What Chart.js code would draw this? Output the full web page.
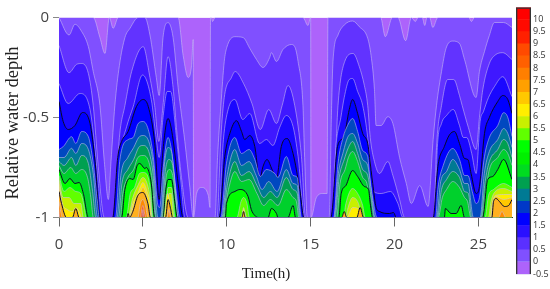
<!DOCTYPE html>
<html>
<head>
<meta charset="utf-8">
<title>Relative water depth contour</title>
<script src="https://cdn.jsdelivr.net/npm/chart.js@4"></script>
<style>
  html, body { margin: 0; padding: 0; background: #fff; }
  #wrap { position: relative; width: 550px; height: 289px; overflow: hidden; }
  canvas { position: absolute; top: 0; filter: blur(0.45px); }
  #plot { left: 0; }
  #bar { left: 500px; }
</style>
</head>
<body>
<div id="wrap">
  <canvas id="plot" width="550" height="289"></canvas>
  <canvas id="bar" width="50" height="289"></canvas>
</div>
<script>
// contour traces: [time (h), relative depth]
const contourCap = [[0,0],[2.04,0],[2.44,-.10],[2.74,-.18],[3,0],[3.23,-.054],[3.53,0],[7.1,0],[7.4,-.19],[7.7,-.30],[7.9,-.24],[8,-.11],[8.02,-1],[8.2,-.88],[8.5,-.85],[8.9,-.89],[9,-.95],[9.03,0],[9.08,0],[9.15,-.02],[9.3,0],[14.54,0],[14.84,-.04],[15,0],[15.02,-1],[15.34,-.9],[15.73,-.88],[15.98,-.88],[16.03,0],[19.17,0],[19.45,-.096],[19.87,0],[20.2,0],[20.66,-.116],[21,0],[21.24,-.02],[21.4,0],[21.65,0],[21.8,-.04],[21.93,0],[22.09,0],[22.28,-.05],[22.58,0],[24.43,0],[24.58,-.02],[24.76,0],[27,0]];
const contourA = [[0,0],[.6,-.0875],[.95,-.034],[1.35,-.07],[1.75,-.146],[2.04,-.27],[2.44,-.44],[2.7,-.72],[2.94,-.91],[3.1,-.72],[3.33,-.44],[3.6,-.24],[3.93,-.10],[4.23,-.054],[4.72,0],[5.12,0],[5.42,-.0875],[5.8,-.3],[5.97,-.39],[6.2,-.10],[6.5,-.026],[6.8,-.10],[7.1,-.35],[7.5,-.62],[7.8,-.85],[8,-1],[9.3,-1],[9.45,-.7],[9.65,-.44],[9.85,-.22],[10,-.15],[10.48,-.096],[10.97,-.10],[11.37,-.154],[11.77,-.21],[12.16,-.25],[12.56,-.20],[12.66,-.176],[12.96,-.22],[13.35,-.16],[13.85,-.135],[14.05,-.146],[14.25,-.22],[14.54,-.44],[14.64,-.70],[14.8,-1],[16.1,-1],[16.25,-.44],[16.33,-.22],[16.63,-.0875],[17,-.0375],[17.5,-.0175],[17.9,-.046],[18.4,-.104],[18.6,-.19],[18.8,-.36],[18.9,-.54],[19.2,-.54],[19.6,-.496],[19.9,-.53],[20.3,-.70],[20.7,-.83],[21,-.93],[21.5,-.84],[22,-.945],[22.3,-.61],[22.5,-.44],[22.8,-.27],[23.07,-.154],[23.47,-.118],[23.87,-.13],[24.17,-.21],[24.86,-.40],[25.06,-.27],[25.36,-.17],[25.65,-.09],[25.95,-.025],[26.5,-.025],[27,-.05]];
const contourB = [[0,-.14],[.6,-.276],[1.05,-.234],[1.35,-.23],[1.75,-.28],[2.04,-.44],[2.34,-.746],[2.7,-1],[3.3,-1],[3.6,-.60],[3.93,-.44],[4.33,-.27],[5.02,-.146],[5.42,-.30],[5.7,-.44],[5.95,-.62],[6.2,-.44],[6.5,-.196],[6.8,-.35],[7,-.55],[7.3,-.80],[7.7,-1],[9.42,-1],[9.65,-.6],[9.85,-.4],[10.28,-.30],[10.5,-.27],[11,-.33],[11.5,-.43],[12,-.56],[12.5,-.46],[12.96,-.53],[13.3,-.44],[13.65,-.34],[14.05,-.44],[14.45,-.695],[14.7,-1],[16.3,-1],[16.63,-.44],[17.03,-.22],[17.53,-.18],[17.9,-.246],[18.2,-.34],[18.4,-.44],[18.55,-.6],[18.8,-.72],[19.1,-.78],[19.6,-.72],[19.9,-.79],[20.3,-.91],[20.6,-1],[22.35,-1],[22.5,-.65],[22.8,-.44],[23.17,-.31],[23.53,-.31],[23.87,-.39],[24.03,-.44],[24.4,-.55],[24.86,-.66],[25.06,-.5],[25.26,-.36],[25.65,-.23],[26,-.1875],[26.45,-.176],[27,-.21]];
const contourC = [[0,-.33],[.55,-.43],[1.25,-.38],[1.85,-.46],[2.15,-.66],[2.34,-.83],[2.56,-1],[3.33,-1],[3.63,-.695],[4.03,-.546],[4.42,-.446],[4.98,-.2875],[5.5,-.41],[5.8,-.61],[5.97,-.70],[6.2,-.50],[6.45,-.37],[6.65,-.37],[7,-.60],[7.3,-.85],[7.5,-1],[9.5,-1],[9.8,-.61],[10.08,-.46],[10.48,-.41],[10.95,-.51],[11.37,-.48],[11.96,-.63],[12.36,-.61],[12.75,-.64],[13.15,-.55],[13.55,-.49],[13.95,-.545],[14.25,-.695],[14.65,-1],[16.27,-1],[16.5,-.65],[16.8,-.50],[17,-.40],[17.3,-.31],[17.5,-.305],[17.8,-.37],[18.1,-.44],[18.4,-.60],[18.6,-.78],[18.75,-.87],[19.2,-.88],[19.75,-.87],[20.2,-.93],[20.5,-1],[22.4,-1],[22.55,-.65],[22.8,-.53],[23.1,-.49],[23.5,-.46],[23.87,-.54],[24.1,-.60],[24.3,-.60],[24.6,-.68],[24.86,-.78],[25.1,-.52],[25.3,-.47],[25.6,-.40],[25.95,-.346],[26.45,-.296],[27,-.396]];
const contourK1 = [[0,-.42],[.25,-.52],[.55,-.56],[.95,-.54],[1.4,-.475],[1.85,-.53],[2.15,-.72],[2.44,-1],[3.2,-1],[3.5,-.70],[3.73,-.62],[4.12,-.57],[4.62,-.445],[5.02,-.41],[5.32,-.445],[5.71,-.63],[5.97,-.91],[6.2,-.66],[6.5,-.505],[6.8,-.61],[7.1,-.83],[7.4,-1],[9.54,-1],[9.88,-.695],[10.18,-.58],[10.58,-.516],[10.88,-.57],[11.07,-.61],[11.37,-.59],[11.67,-.645],[11.96,-.81],[12.16,-.745],[12.4,-.71],[12.7,-.76],[12.96,-.805],[13.25,-.645],[13.6,-.605],[13.95,-.68],[14.35,-.86],[14.6,-1],[16.2,-1],[16.6,-.645],[16.98,-.595],[17.3,-.46],[17.5,-.41],[17.8,-.48],[18.1,-.58],[18.4,-.63],[18.51,-.70],[18.7,-.83],[18.9,-.95],[19.1,-.97],[19.7,-.98],[19.94,-.975],[20.1,-1],[22.3,-1],[22.58,-.745],[22.97,-.645],[23.27,-.587],[23.57,-.57],[23.87,-.63],[24.17,-.705],[24.37,-.71],[24.56,-.78],[24.86,-.88],[25.06,-.845],[25.36,-.58],[25.65,-.50],[26.15,-.42],[26.45,-.39],[26.75,-.41],[27,-.48]];
const contourE = [[0,-.66],[.26,-.645],[.75,-.596],[1,-.63],[1.35,-.57],[1.75,-.596],[2.04,-.73],[2.3,-.93],[2.4,-1],[3.37,-1],[3.63,-.71],[4.13,-.61],[4.42,-.6],[4.72,-.53],[5.02,-.52],[5.32,-.56],[5.62,-.695],[5.9,-.94],[6,-.95],[6.2,-.76],[6.5,-.60],[6.7,-.66],[7,-.88],[7.2,-1],[9.64,-1],[9.98,-.73],[10.48,-.60],[10.88,-.68],[11.33,-.66],[11.67,-.71],[12,-.795],[12.36,-.76],[12.86,-.78],[13.05,-.80],[13.55,-.695],[13.95,-.79],[14.2,-.80],[14.45,-1],[16.37,-1],[16.63,-.73],[16.93,-.60],[17.2,-.54],[17.5,-.505],[17.8,-.57],[18.1,-.665],[18.4,-.695],[18.5,-.78],[18.75,-.93],[18.95,-1],[22.45,-1],[22.58,-.86],[22.9,-.74],[23.47,-.655],[23.87,-.71],[24.17,-.79],[24.37,-.79],[24.66,-.88],[24.86,-.93],[25.06,-.90],[25.36,-.695],[25.65,-.60],[26.15,-.54],[26.5,-.476],[26.75,-.50],[27,-.595]];
const contourF = [[0,-.70],[.3,-.70],[.75,-.654],[1,-.68],[1.35,-.63],[1.75,-.66],[2.04,-.78],[2.3,-1],[3.45,-1],[3.7,-.78],[4.1,-.70],[4.45,-.65],[4.75,-.60],[5,-.59],[5.35,-.62],[5.6,-.72],[5.9,-1],[6.05,-1],[6.3,-.72],[6.5,-.65],[6.7,-.67],[6.9,-.82],[7.1,-1],[9.7,-1],[10,-.80],[10.48,-.66],[10.88,-.74],[11.33,-.72],[11.75,-.79],[12.1,-.86],[12.5,-.82],[13,-.87],[13.55,-.76],[13.95,-.83],[14.2,-.84],[14.4,-1],[16.4,-1],[16.65,-.78],[16.95,-.67],[17.2,-.60],[17.5,-.58],[17.8,-.63],[18.1,-.71],[18.4,-.74],[18.6,-.86],[18.85,-1],[22.5,-1],[22.75,-.82],[23.1,-.77],[23.47,-.71],[23.87,-.76],[24.17,-.83],[24.37,-.83],[24.7,-1],[25.1,-1],[25.35,-.78],[25.65,-.67],[26.15,-.61],[26.5,-.555],[26.75,-.58],[27,-.65]];
const contourG = [[0,-.72],[.3,-.74],[.75,-.70],[1,-.74],[1.35,-.69],[1.75,-.73],[2,-.87],[2.2,-1],[3.55,-1],[3.75,-.83],[4.1,-.76],[4.45,-.71],[4.75,-.65],[5,-.64],[5.35,-.67],[5.6,-.78],[5.8,-1],[6.1,-1],[6.35,-.76],[6.55,-.71],[6.75,-.73],[6.95,-.88],[7.05,-1],[9.75,-1],[10.05,-.83],[10.48,-.72],[10.88,-.79],[11.33,-.77],[11.8,-.84],[12.2,-.90],[12.6,-.87],[13,-.90],[13.55,-.80],[13.95,-.86],[14.2,-.88],[14.35,-1],[16.45,-1],[16.7,-.80],[17,-.71],[17.25,-.65],[17.5,-.62],[17.8,-.68],[18.1,-.76],[18.4,-.79],[18.6,-.90],[18.8,-1],[22.55,-1],[22.8,-.86],[23.1,-.81],[23.47,-.77],[23.87,-.80],[24.17,-.87],[24.4,-.88],[24.6,-1],[25.15,-1],[25.4,-.82],[25.65,-.72],[26.15,-.66],[26.5,-.61],[26.75,-.63],[27,-.70]];
const contourH = [[0,-.74],[.3,-.78],[.7,-.75],[1,-.78],[1.35,-.76],[1.7,-.80],[1.9,-.90],[2.05,-1],[3.65,-1],[3.8,-.88],[4.1,-.80],[4.45,-.76],[4.7,-.70],[5,-.69],[5.3,-.71],[5.55,-.81],[5.75,-1],[6.15,-1],[6.4,-.79],[6.6,-.76],[6.8,-.80],[7,-.95],[7.05,-1],[9.8,-1],[10.1,-.86],[10.48,-.77],[10.88,-.82],[11.33,-.81],[11.8,-.88],[12.2,-.94],[12.6,-.91],[13.05,-.94],[13.55,-.86],[13.95,-.90],[14.15,-.92],[14.3,-1],[16.55,-1],[16.75,-.83],[17.05,-.76],[17.25,-.70],[17.5,-.67],[17.8,-.72],[18.1,-.80],[18.35,-.83],[18.55,-.95],[18.75,-1],[22.6,-1],[22.85,-.90],[23.1,-.86],[23.47,-.82],[23.87,-.85],[24.17,-.90],[24.35,-.92],[24.55,-1],[25.2,-1],[25.45,-.86],[25.65,-.76],[26.15,-.70],[26.5,-.66],[26.75,-.68],[27,-.74]];
const contourK2 = [[0,-.76],[.36,-.83],[.65,-.805],[.95,-.83],[1.2,-.825],[1.45,-.88],[1.75,-1],[3.73,-1],[3.93,-.86],[4.22,-.805],[4.42,-.81],[4.66,-.74],[4.82,-.73],[5.12,-.755],[5.2,-.75],[5.5,-.83],[5.7,-1],[6.2,-1],[6.35,-.87],[6.5,-.81],[6.7,-.81],[6.9,-.92],[7.05,-1],[9.92,-1],[9.98,-.93],[10.48,-.87],[10.78,-.86],[11.27,-.895],[11.46,-.96],[11.67,-.99],[11.87,-1],[12.46,-1],[12.66,-.955],[12.96,-.98],[13.05,-1],[13.65,-1],[13.95,-.94],[14.1,-1],[16.68,-1],[16.82,-.88],[17.1,-.84],[17.5,-.765],[17.8,-.795],[18.2,-.845],[18.45,-.86],[18.55,-.93],[18.7,-1],[22.97,-1],[23.03,-.955],[23.37,-.98],[23.67,-.98],[23.97,-.94],[24.17,-1],[25.25,-1],[25.55,-.81],[25.85,-.795],[26.15,-.76],[26.5,-.71],[27,-.81]];
const contourM = [[0,-.79],[.3,-.87],[.65,-.85],[1,-.87],[1.3,-.88],[1.55,-.97],[1.6,-1],[4,-1],[4.25,-.88],[4.5,-.85],[4.8,-.78],[5,-.775],[5.2,-.78],[5.45,-.86],[5.6,-1],[6.35,-1],[6.5,-.85],[6.7,-.85],[6.85,-.95],[6.9,-1],[10.6,-1],[10.85,-.92],[11,-.90],[11.2,-.93],[11.35,-1],[16.95,-1],[17.1,-.93],[17.5,-.855],[17.8,-.88],[18.1,-.94],[18.25,-1],[25.4,-1],[25.6,-.89],[25.9,-.86],[26.5,-.83],[27,-.85]];
const contourN = [[0,-.81],[.25,-.90],[.6,-.90],[.9,-.93],[1.3,-.93],[1.45,-1],[4.1,-1],[4.4,-.90],[4.7,-.84],[5,-.80],[5.25,-.83],[5.45,-.91],[5.55,-1],[6.4,-1],[6.55,-.88],[6.7,-.88],[6.85,-1],[10.85,-1],[11,-.96],[11.2,-1],[17.1,-1],[17.2,-.96],[17.5,-.90],[17.8,-.92],[18,-.97],[18.15,-1],[25.6,-1],[25.75,-.92],[26,-.87],[26.5,-.855],[27,-.87]];
const contourO = [[0,-.83],[.2,-.93],[.5,-.96],[.8,-.97],[1,-.95],[1.2,-.97],[1.35,-1],[4.15,-1],[4.4,-.93],[4.7,-.88],[5,-.825],[5.25,-.87],[5.45,-.94],[5.5,-1],[6.25,-1],[6.45,-.88],[6.6,-.92],[6.75,-1],[10.9,-1],[11,-.95],[11.15,-1],[17.15,-1],[17.5,-.95],[17.9,-.96],[18.1,-1],[25.7,-1],[25.8,-.94],[26,-.89],[26.5,-.885],[27,-.885]];
const contourP = [[0,-.85],[.15,-.92],[.3,-1],[4.2,-1],[4.5,-.93],[4.75,-.90],[5,-.85],[5.25,-.90],[5.4,-.97],[5.45,-1],[25.75,-1],[25.85,-.93],[26.05,-.895],[26.5,-.91],[27,-.90]];
const contourK3 = [[0,-.87],[.15,-.93],[.45,-1],[.8,-1],[1,-.955],[1.2,-1],[4.05,-1],[4.12,-.98],[4.2,-1],[4.4,-.97],[4.7,-.89],[5,-.875],[5.3,-.93],[5.45,-1],[6.35,-1],[6.5,-.91],[6.65,-.955],[6.77,-1],[10.9,-1],[11,-.97],[11.1,-1],[16.85,-1],[17,-.97],[17.15,-1],[17.75,-1],[17.95,-.95],[18.15,-1],[25.8,-1],[25.9,-.92],[26.05,-.905],[26.25,-.92],[26.55,-.945],[26.8,-.94],[27,-.91]];
const contourR = [[0,-.92],[.1,-.97],[.2,-1],[4.7,-1],[4.85,-.93],[5,-.91],[5.15,-.94],[5.3,-1],[6.45,-1],[6.55,-.96],[6.65,-1],[26.2,-1],[26.4,-.97],[26.6,-1]];
const contourS = [[0,-.96],[.05,-1],[4.85,-1],[4.95,-.95],[5,-.94],[5.08,-.97],[5.15,-1]];
const contourU = [[0,-.985],[.03,-1],[4.95,-1],[5,-.96],[5.05,-1]];

// colour bar: lower edge and colour of each band
const barEdges = [-.5,0,.5,1,1.5,2,2.5,3,3.5,4,4.5,5,5.5,6,6.5,7,7.5,8,8.5,9,9.5,10];
const barColors = ["#ad63fb","#8050ff","#5a30ff","#2a10ff","#0000ff","#0038c8","#007a94","#00a050","#00dc20","#00f000","#00ff00","#60ff00","#c8f000","#ffee00","#ffc800","#ffa000","#ff7f00","#ff6000","#ff4a00","#ff2000","#ff0a00","#ff0000"];
const blackBarLines = [2, 4.5, 7];

const lightLine = "rgba(205,195,240,0.55)";
const darkLine = "#0a0a28";
const contours = [
  [contourCap, "#8050ff", lightLine],
  [contourA, "#6233ff", lightLine],
  [contourB, "#3f18ff", lightLine],
  [contourC, "#1a08ff", lightLine],
  [contourK1, "#0000ff", darkLine],
  [contourE, "#0048c0", lightLine],
  [contourF, "#007a94", lightLine],
  [contourG, "#00a050", lightLine],
  [contourH, "#00d02c", lightLine],
  [contourK2, "#00ff00", darkLine],
  [contourM, "#60ff00", lightLine],
  [contourN, "#c8f000", lightLine],
  [contourO, "#ffee00", lightLine],
  [contourP, "#ffc800", lightLine],
  [contourK3, "#ffb020", darkLine],
  [contourR, "#ff8a00", lightLine],
  [contourS, "#ff5000", lightLine],
  [contourU, "#c03020", lightLine],
];

// lower order draws on top, so the deepest band gets the lowest one
const datasets = [{
  data: [{ x: 0, y: 0 }, { x: 27, y: 0 }],
  borderWidth: 0,
  pointRadius: 0,
  backgroundColor: "#ad63fb",
  fill: { value: -1 },
  order: contours.length + 1,
}];
contours.forEach(([points, color, line], i) => {
  datasets.push({
    data: points.map(([x, y]) => ({ x, y })),
    borderColor: line,
    borderWidth: 1,
    backgroundColor: color,
    pointRadius: 0,
    cubicInterpolationMode: "monotone",
    fill: { value: -1 },
    order: contours.length - i,
  });
});

const axisCaptions = {
  id: "axisCaptions",
  afterDraw(chart) {
    const ctx = chart.ctx;
    ctx.save();
    ctx.fillStyle = "#222";
    ctx.textAlign = "center";
    ctx.textBaseline = "middle";
    ctx.font = "15px 'Liberation Serif'";
    ctx.fillText("Time(h)", 266, 274);
    ctx.translate(13, 123);
    ctx.rotate(-Math.PI / 2);
    ctx.font = "18.5px 'Liberation Serif'";
    ctx.fillText("Relative water depth", 0, 0);
    ctx.restore();
  },
};

new Chart(document.getElementById("plot"), {
  type: "line",
  data: { datasets },
  plugins: [axisCaptions],
  options: {
    responsive: false,
    animation: false,
    layout: { padding: { top: 17.5, right: 38 } },
    plugins: { legend: { display: false }, tooltip: { enabled: false } },
    scales: {
      x: {
        type: "linear",
        min: 0,
        max: 27,
        z: 1,
        afterFit: (s) => { s.height = 71.5; },
        border: { color: "#333", width: 1 },
        grid: { drawOnChartArea: false, color: "#666", tickLength: 9 },
        ticks: { stepSize: 5, includeBounds: false, maxRotation: 0, padding: 9, color: "#444", font: { family: "Open Sans", size: 15 } },
      },
      y: {
        min: -1,
        max: 0,
        afterFit: (s) => { s.width = 59; },
        border: { display: false },
        grid: { drawOnChartArea: false, color: "#888", tickLength: 6 },
        ticks: { stepSize: 0.5, padding: 4, color: "#444", font: { family: "Open Sans", size: 15 }, callback: (v) => String(v) },
      },
    },
  },
});

// colour bar
const barSets = barEdges.map((low, i) => ({
  data: [[low, low + 0.5]],
  backgroundColor: barColors[i],
  borderWidth: 0,
}));
barSets.push({
  data: [[-0.5, 10.5]],
  backgroundColor: "transparent",
  borderColor: "#333",
  borderWidth: 1,
  order: -1,
});

new Chart(document.getElementById("bar"), {
  type: "bar",
  data: { labels: ["level"], datasets: barSets },
  options: {
    responsive: false,
    animation: false,
    grouped: false,
    barPercentage: 1,
    categoryPercentage: 1,
    layout: { padding: { top: 5, bottom: 15, left: 16 } },
    plugins: { legend: { display: false }, tooltip: { enabled: false } },
    scales: {
      x: { display: false },
      y: {
        position: "right",
        min: -0.5,
        max: 10.5,
        z: 1,
        afterFit: (s) => { s.width = 19; },
        border: { display: false },
        grid: {
          drawTicks: false,
          color: (c) => blackBarLines.includes(c.tick.value) ? "#111" : "rgba(205,195,240,0.5)",
        },
        ticks: {
          stepSize: 0.5,
          autoSkip: false,
          padding: 2,
          color: "#333",
          font: { family: "Open Sans", size: 9 },
          callback: (v) => (v === 10.5 ? "" : String(v)),
        },
      },
    },
  },
});
</script>
</body>
</html>
